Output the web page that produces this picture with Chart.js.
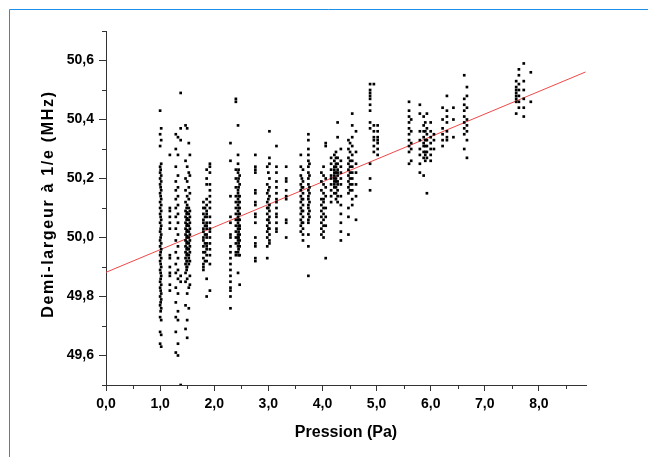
<!DOCTYPE html>
<html>
<head>
<meta charset="utf-8">
<script src="https://cdn.jsdelivr.net/npm/chart.js@4"></script>
<style>
  html, body { margin: 0; padding: 0; background: #fff; }
  #wrap { position: relative; width: 648px; height: 457px; overflow: hidden; }
</style>
</head>
<body>
<div id="wrap"><canvas id="chart" width="648" height="457"></canvas></div>
<script>
// axis ticks
const xTicks = [0, 1, 2, 3, 4, 5, 6, 7, 8];
const xMinor = [0.5, 1.5, 2.5, 3.5, 4.5, 5.5, 6.5, 7.5, 8.5];
const yTicks = [49.6, 49.8, 50.0, 50.2, 50.4, 50.6];
const yMinor = [49.5, 49.7, 49.9, 50.1, 50.3, 50.5, 50.7];

// measurement runs: pressure (Pa) -> half widths (MHz)
const r100 = [50.43, 50.35, 50.31, 50.24, 50.22, 50.20, 50.18, 50.15, 50.12, 50.10, 50.08, 50.05, 50.02, 49.99, 49.97, 49.94, 49.92, 49.89, 49.85, 49.83, 49.80, 49.77, 49.73, 49.68, 49.64];
const r101 = [50.23, 50.17, 50.14, 50.07, 50.03, 50.00, 49.95, 49.91, 49.88, 49.86, 49.82, 49.78, 49.75];
const r102 = [50.37, 50.33, 50.25, 50.21, 50.19, 50.16, 50.13, 50.11, 50.09, 50.06, 50.04, 50.01, 49.98, 49.96, 49.93, 49.90, 49.87, 49.84, 49.81, 49.79, 49.76, 49.72, 49.67, 49.63];
const r118 = [50.28, 50.10, 50.09, 50.07, 50.05, 50.03, 49.94, 49.93, 49.90, 49.88, 49.87, 49.84, 49.82];
const r129 = [50.35, 50.30, 50.24, 50.19, 50.16, 50.13, 50.10, 50.07, 50.03, 49.99, 49.95, 49.91, 49.88, 49.83, 49.78, 49.73, 49.68, 49.61];
const r133 = [50.34, 50.28, 50.21, 50.17, 50.14, 50.11, 50.08, 50.05, 50.01, 49.97, 49.93, 49.89, 49.86, 49.81, 49.75, 49.72, 49.64, 49.60];
const r138 = [50.49, 50.37, 50.33, 49.87, 49.85, 49.50];
const r147 = [50.38, 50.26, 50.20, 50.16, 50.12, 50.09, 50.07, 50.05, 50.03, 50.01, 49.99, 49.97, 49.95, 49.93, 49.91, 49.88, 49.85, 49.77, 49.69];
const r149 = [50.10, 50.08, 50.06, 50.04, 50.02, 50.00, 49.98, 49.96, 49.94, 49.92, 49.90, 49.89];
const r150 = [50.37, 50.24, 50.19, 50.14, 50.11, 50.085, 50.065, 50.045, 50.025, 50.005, 49.985, 49.965, 49.945, 49.92, 49.90, 49.86, 49.81, 49.72, 49.66];
const r153 = [50.32, 50.22, 50.17, 50.13, 50.10, 50.08, 50.06, 50.04, 50.02, 50.00, 49.98, 49.96, 49.94, 49.93, 49.91, 49.83, 49.76];
const r155 = [50.28, 50.21, 50.15, 50.09, 50.07, 50.05, 50.03, 50.01, 49.99, 49.97, 49.95, 49.92, 49.87, 49.84];
const r180 = [50.12, 50.10, 50.08, 50.06, 50.05, 50.03, 50.02, 50.00, 49.99, 49.97, 49.95, 49.93, 49.91, 49.90, 49.89];
const r183 = [50.10, 50.07, 50.04, 50.01, 49.98, 49.95, 49.92];
const r186 = [50.23, 50.20, 50.18, 50.13, 50.11, 50.09, 50.08, 50.07, 50.05, 50.04, 50.03, 50.01, 50.00, 49.98, 49.97, 49.96, 49.94, 49.92, 49.86, 49.80];
const r192 = [50.25, 50.24, 50.22, 50.18, 50.16, 50.14, 50.12, 50.10, 50.07, 50.05, 50.03, 50.02, 50.00, 49.98, 49.96, 49.94, 49.91, 49.82];
const r230 = [50.32, 50.26, 50.14, 50.07, 50.05, 50.01, 50.00, 49.97, 49.95, 49.93, 49.91, 49.89, 49.87, 49.85, 49.83, 49.82, 49.80, 49.76];
const r240 = [50.47, 50.46, 50.23, 50.20, 50.17, 50.14, 50.12, 50.10, 50.08, 50.06, 50.04, 50.02, 50.00, 49.98, 49.95, 49.94];
const r244 = [50.38, 50.28, 50.25, 50.22, 50.19, 50.16, 50.15, 50.13, 50.11, 50.09, 50.07, 50.06, 50.05, 50.03, 50.01, 50.00, 49.99, 49.97, 49.95, 49.88];
const r245 = [50.23, 50.20, 50.17, 50.14, 50.12, 50.10, 50.08, 50.06, 50.04, 50.02, 50.00, 49.98, 49.96, 49.94];
const r247 = [50.21, 50.18, 50.14, 50.12, 50.10, 50.08, 50.06, 50.04, 50.03, 50.01, 49.99, 49.97, 49.94, 49.84];
const r276 = [50.28, 50.24, 50.23, 50.22, 50.16, 50.15, 50.12, 50.11, 50.08, 50.07, 50.05, 50.00, 49.98, 49.97, 49.93, 49.92];
const r298 = [50.24, 50.18, 50.15, 50.12, 50.10, 50.08, 50.06, 50.04, 50.02, 50.00, 49.97, 49.93];
const r300 = [50.22, 50.16, 50.13, 50.10, 50.06, 50.03];
const r302 = [50.36, 50.27, 50.25, 50.20, 50.17, 50.14, 50.11, 50.09, 50.07, 50.05, 50.03, 50.01, 49.99, 49.98];
const r315 = [50.31, 50.24, 50.22, 50.19, 50.17, 50.15, 50.13, 50.12, 50.10, 50.08, 50.07, 50.05, 50.03, 50.02];
const r333 = [50.24, 50.20, 50.19, 50.16, 50.14, 50.13, 50.06, 50.05, 50.00];
const r360 = [50.28, 50.24, 50.21, 50.18, 50.16, 50.14, 50.12, 50.10, 50.08, 50.06, 50.04, 50.02];
const r362 = [50.20, 50.17, 50.13, 50.09, 50.05];
const r364 = [50.23, 50.19, 50.17, 50.15, 50.13, 50.11, 50.09, 50.07, 50.05, 50.03, 50.01, 49.99];
const r374 = [50.35, 50.33, 50.30, 50.28, 50.26, 50.24, 50.22, 50.20, 50.18, 50.16, 50.14, 50.13, 50.11, 50.10, 50.08, 50.06, 50.05, 50.01, 49.97, 49.87];
const r376 = [50.25, 50.21, 50.17, 50.15, 50.12, 50.09, 50.07];
const r398 = [50.22, 50.19, 50.16, 50.13, 50.11, 50.09, 50.07, 50.05, 50.03, 50.01];
const r402 = [50.24, 50.21, 50.18, 50.15, 50.13, 50.12, 50.10, 50.08, 50.06, 50.04, 50.02, 50.00];
const r406 = [50.32, 50.31, 50.20, 50.17, 50.14, 50.10, 50.07, 50.04, 49.93];
const r416 = [50.27, 50.25, 50.23, 50.21, 50.20, 50.18, 50.16, 50.14, 50.12];
const r422 = [50.28, 50.26, 50.24, 50.23, 50.22, 50.21, 50.20, 50.19, 50.18, 50.17, 50.15];
const r425 = [50.29, 50.27, 50.25, 50.24, 50.22, 50.20, 50.19, 50.17, 50.15, 50.13];
const r428 = [50.39, 50.34, 50.27, 50.25, 50.23, 50.22, 50.21, 50.19, 50.18, 50.16, 50.14, 50.12];
const r434 = [50.30, 50.26, 50.24, 50.22, 50.20, 50.18, 50.14, 50.11, 50.08, 50.05, 50.02, 49.99];
const r448 = [50.33, 50.30, 50.27, 50.25, 50.23, 50.21, 50.19, 50.17, 50.15, 50.10, 50.07, 50.01];
const r451 = [50.32, 50.29, 50.26, 50.24, 50.22, 50.20, 50.18, 50.16];
const r455 = [50.42, 50.38, 50.34, 50.31, 50.28, 50.26, 50.24, 50.22, 50.20, 50.18, 50.16, 50.13, 50.11];
const r462 = [50.36, 50.29, 50.25, 50.22, 50.18, 50.14, 50.06];
const r488 = [50.52, 50.50, 50.49, 50.48, 50.47, 50.45, 50.43, 50.39, 50.37, 50.25, 50.20, 50.16];
const r495 = [50.52, 50.38, 50.36, 50.34, 50.33, 50.31, 50.29];
const r502 = [50.38, 50.36, 50.34, 50.33, 50.32, 50.30, 50.28];
const r560 = [50.46, 50.43, 50.41, 50.39, 50.37, 50.35, 50.33, 50.31, 50.29, 50.25];
const r564 = [50.40, 50.36, 50.32, 50.30, 50.26];
const r580 = [50.45, 50.42, 50.36, 50.33, 50.30, 50.28, 50.25, 50.22];
const r587 = [50.41, 50.38, 50.36, 50.34, 50.32, 50.31, 50.29, 50.27, 50.21];
const r590 = [50.39, 50.36, 50.33, 50.31, 50.29, 50.28, 50.26];
const r593 = [50.42, 50.37, 50.35, 50.33, 50.31, 50.29, 50.27, 50.15];
const r600 = [50.39, 50.36, 50.34, 50.32, 50.30, 50.28, 50.26];
const r606 = [50.35, 50.33, 50.30];
const r622 = [50.44, 50.40, 50.37, 50.35, 50.33, 50.31];
const r630 = [50.48, 50.43, 50.41, 50.39, 50.36, 50.34, 50.33];
const r642 = [50.44, 50.40, 50.34];
const r662 = [50.55, 50.47, 50.45, 50.43, 50.41, 50.39, 50.37, 50.35, 50.30];
const r667 = [50.51, 50.48, 50.44, 50.40, 50.38, 50.36, 50.33, 50.27];
const r758 = [50.53, 50.51, 50.50, 50.49, 50.48, 50.47, 50.46, 50.42];
const r763 = [50.57, 50.55, 50.52, 50.50, 50.48, 50.46, 50.44];
const r772 = [50.59, 50.53, 50.50, 50.47, 50.44, 50.41];
const r785 = [50.56, 50.46];

const runPressure = [1.00, 1.01, 1.02, 1.18, 1.29, 1.33, 1.38, 1.47, 1.49, 1.50, 1.53, 1.55,
  1.80, 1.83, 1.86, 1.92, 2.30, 2.40, 2.44, 2.45, 2.47, 2.76, 2.98, 3.00, 3.02, 3.15, 3.33,
  3.60, 3.62, 3.64, 3.74, 3.76, 3.98, 4.02, 4.06, 4.16, 4.22, 4.25, 4.28, 4.34,
  4.48, 4.51, 4.55, 4.62, 4.88, 4.95, 5.02, 5.60, 5.64, 5.80, 5.87, 5.90, 5.93, 6.00, 6.06,
  6.22, 6.30, 6.42, 6.62, 6.67, 7.58, 7.63, 7.72, 7.85];
const runValues = [r100, r101, r102, r118, r129, r133, r138, r147, r149, r150, r153, r155,
  r180, r183, r186, r192, r230, r240, r244, r245, r247, r276, r298, r300, r302, r315, r333,
  r360, r362, r364, r374, r376, r398, r402, r406, r416, r422, r425, r428, r434,
  r448, r451, r455, r462, r488, r495, r502, r560, r564, r580, r587, r590, r593, r600, r606,
  r622, r630, r642, r662, r667, r758, r763, r772, r785];

// linear fit drawn in red
const fitX = [0, 8.86];
const fitY = [49.882, 50.561];

const points = [];
runPressure.forEach(function (p, i) {
  runValues[i].forEach(function (v) { points.push({ x: p, y: v }); });
});

const axisColor = '#333';
const fmt = v => Number(v).toFixed(1).replace('.', ',');

// blue frame + minor ticks
const extras = {
  id: 'extras',
  afterDraw(chart) {
    const ctx = chart.ctx;
    const xs = chart.scales.x, ys = chart.scales.y;
    ctx.save();
    ctx.strokeStyle = '#1e8fe6';
    ctx.lineWidth = 1;
    ctx.beginPath();
    ctx.moveTo(9.5, 457); ctx.lineTo(9.5, 9.5); ctx.lineTo(648, 9.5);
    ctx.stroke();
    ctx.strokeStyle = axisColor;
    ctx.beginPath();
    xMinor.forEach(function (v) {
      const px = Math.round(xs.getPixelForValue(v)) + 0.5;
      ctx.moveTo(px, ys.bottom); ctx.lineTo(px, ys.bottom + 4);
    });
    yMinor.forEach(function (v) {
      const py = Math.round(ys.getPixelForValue(v)) + 0.5;
      ctx.moveTo(xs.left - 4, py); ctx.lineTo(xs.left, py);
    });
    ctx.stroke();
    ctx.restore();
  }
};

// the y title of the original is rendered a bit wider-spaced
function spacedTitle(scale) {
  if (scale._spaced) return;
  const orig = scale.drawTitle;
  scale.drawTitle = function () {
    this.ctx.save();
    this.ctx.letterSpacing = '1.7px';
    this.ctx.translate(0, -4);
    orig.call(this);
    this.ctx.restore();
  };
  scale._spaced = true;
}

new Chart(document.getElementById('chart').getContext('2d'), {
  type: 'scatter',
  data: {
    datasets: [{
      label: 'mesures',
      data: points,
      pointStyle: 'rect',
      pointRadius: 1.9,
      borderWidth: 0,
      backgroundColor: '#000'
    }, {
      type: 'line',
      label: 'ajustement',
      data: fitX.map((x, i) => ({ x: x, y: fitY[i] })),
      borderColor: '#f04848',
      borderWidth: 1,
      pointRadius: 0,
      fill: false
    }]
  },
  plugins: [extras],
  options: {
    responsive: false,
    animation: false,
    devicePixelRatio: 1,
    layout: { padding: { top: 31, right: 62, left: 0, bottom: 0 } },
    plugins: { legend: { display: false }, tooltip: { enabled: false } },
    scales: {
      x: {
        type: 'linear',
        min: 0,
        max: 8.87,
        afterBuildTicks: s => { s.ticks = xTicks.map(v => ({ value: v })); },
        afterFit: s => { s.height = 72; },
        grid: { drawOnChartArea: false, drawTicks: true, tickLength: 6, color: axisColor },
        border: { display: true, color: axisColor, width: 1 },
        ticks: {
          color: '#000',
          padding: 5,
          maxRotation: 0,
          font: { family: '"Liberation Sans", Arial, sans-serif', size: 14, weight: 'bold' },
          callback: v => fmt(v)
        },
        title: {
          display: true,
          text: 'Pression (Pa)',
          color: '#000',
          font: { family: '"Liberation Sans", Arial, sans-serif', size: 16, weight: 'bold' },
          padding: { top: 0, bottom: 15 }
        }
      },
      y: {
        type: 'linear',
        min: 49.5,
        max: 50.7,
        afterBuildTicks: s => { s.ticks = yTicks.map(v => ({ value: v })); },
        afterFit: s => { s.width = 106; spacedTitle(s); },
        grid: { drawOnChartArea: false, drawTicks: true, tickLength: 7, color: axisColor },
        border: { display: true, color: axisColor, width: 1 },
        ticks: {
          color: '#000',
          padding: 5,
          font: { family: '"Liberation Sans", Arial, sans-serif', size: 14, weight: 'bold' },
          callback: v => fmt(v)
        },
        title: {
          display: true,
          text: 'Demi-largeur à 1/e (MHz)',
          color: '#000',
          font: { family: '"Liberation Sans", Arial, sans-serif', size: 16, weight: 'bold' },
          padding: { top: 39, bottom: 0 }
        }
      }
    }
  }
});
</script>
</body>
</html>
